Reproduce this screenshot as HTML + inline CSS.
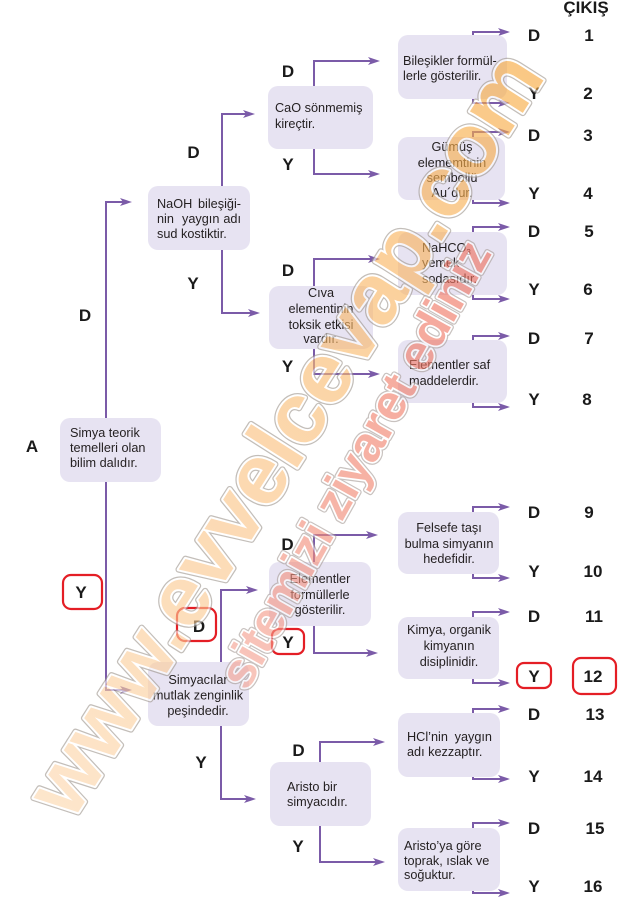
<!DOCTYPE html>
<html><head><meta charset="utf-8">
<style>
html,body{margin:0;padding:0;background:#fff;}
svg{display:block;}
.t{font-family:"Liberation Sans",Arial,sans-serif;font-size:12.7px;fill:#231f20;}
.c{text-anchor:middle;}
.e{text-anchor:end;}
.b{font-family:"Liberation Sans",Arial,sans-serif;font-size:17px;font-weight:bold;fill:#1a1a1a;text-anchor:middle;}
.box{fill:#e7e3f2;}
.ln{stroke:#7b5ba8;stroke-width:2;fill:none;}
.ah{fill:#7b5ba8;}
.red{fill:none;stroke:#e41e25;stroke-width:2.2;}
.wm{font-family:"Liberation Sans",Arial,sans-serif;font-weight:bold;}
</style></head><body>
<svg width="636" height="910" viewBox="0 0 636 910" xmlns="http://www.w3.org/2000/svg">
<defs>
<linearGradient id="g1" gradientUnits="userSpaceOnUse" x1="0" y1="0" x2="884" y2="0">
<stop offset="0" stop-color="#fcd7ad"/>
<stop offset="0.4" stop-color="#fbc486"/>
<stop offset="0.75" stop-color="#f9b35c"/>
<stop offset="1" stop-color="#f7a83a"/>
</linearGradient>
<linearGradient id="g2" gradientUnits="userSpaceOnUse" x1="0" y1="0" x2="503" y2="0">
<stop offset="0" stop-color="#f5a595"/>
<stop offset="0.45" stop-color="#f2856f"/>
<stop offset="1" stop-color="#ee705d"/>
</linearGradient>
</defs>

<!-- connectors -->
<path class="ln" d="M123,202 H106 V690 H123"/>
<path class="ln" d="M246,114 H222 V313 H251"/>
<path class="ln" d="M371,61 H314 V174 H371"/>
<path class="ln" d="M371,259 H314 V374 H371"/>
<path class="ln" d="M249,590 H221 V799 H247"/>
<path class="ln" d="M369,535 H314 V653 H369"/>
<path class="ln" d="M376,742 H320 V862 H376"/>
<!-- leaf stubs -->
<path class="ln" d="M473,36 V32 H501 M473,98 V103 H501"/>
<path class="ln" d="M473,138 V132 H501 M473,199 V203 H501"/>
<path class="ln" d="M473,233 V227 H501 M473,294 V299 H501"/>
<path class="ln" d="M473,341 V336 H501 M473,402 V407 H501"/>
<path class="ln" d="M473,513 V507 H501 M473,573 V578 H501"/>
<path class="ln" d="M473,618 V612 H501 M473,678 V683 H501"/>
<path class="ln" d="M473,714 V709 H501 M473,776 V779 H501"/>
<path class="ln" d="M473,829 V823 H501 M473,890 V893 H501"/>

<!-- arrowheads -->
<g class="ah">
<polygon points="120,198 132,202 120,206 123,202"/>
<polygon points="120,686 132,690 120,694 123,690"/>
<polygon points="243,110 255,114 243,118 246,114"/>
<polygon points="248,309 260,313 248,317 251,313"/>
<polygon points="368,57 380,61 368,65 371,61"/>
<polygon points="368,170 380,174 368,178 371,174"/>
<polygon points="368,255 380,259 368,263 371,259"/>
<polygon points="368,370 380,374 368,378 371,374"/>
<polygon points="246,586 258,590 246,594 249,590"/>
<polygon points="244,795 256,799 244,803 247,799"/>
<polygon points="366,531 378,535 366,539 369,535"/>
<polygon points="366,649 378,653 366,657 369,653"/>
<polygon points="373,738 385,742 373,746 376,742"/>
<polygon points="373,858 385,862 373,866 376,862"/>
<polygon points="498,28 510,32 498,36 501,32"/>
<polygon points="498,99 510,103 498,107 501,103"/>
<polygon points="498,128 510,132 498,136 501,132"/>
<polygon points="498,199 510,203 498,207 501,203"/>
<polygon points="498,223 510,227 498,231 501,227"/>
<polygon points="498,295 510,299 498,303 501,299"/>
<polygon points="498,332 510,336 498,340 501,336"/>
<polygon points="498,403 510,407 498,411 501,407"/>
<polygon points="498,503 510,507 498,511 501,507"/>
<polygon points="498,574 510,578 498,582 501,578"/>
<polygon points="498,608 510,612 498,616 501,612"/>
<polygon points="498,679 510,683 498,687 501,683"/>
<polygon points="498,705 510,709 498,713 501,709"/>
<polygon points="498,775 510,779 498,783 501,779"/>
<polygon points="498,819 510,823 498,827 501,823"/>
<polygon points="498,889 510,893 498,897 501,893"/>
</g>

<!-- boxes -->
<rect class="box" x="60" y="418" width="101" height="64" rx="10"/>
<rect class="box" x="148" y="186" width="102" height="64" rx="10"/>
<rect class="box" x="268" y="86" width="105" height="63" rx="10"/>
<rect class="box" x="398" y="35" width="109" height="64" rx="10"/>
<rect class="box" x="398" y="137" width="107" height="63" rx="10"/>
<rect class="box" x="398" y="232" width="109" height="63" rx="10"/>
<rect class="box" x="269" y="286" width="104" height="63" rx="10"/>
<rect class="box" x="398" y="340" width="109" height="63" rx="10"/>
<rect class="box" x="269" y="562" width="102" height="64" rx="10"/>
<rect class="box" x="398" y="512" width="101" height="62" rx="10"/>
<rect class="box" x="398" y="617" width="101" height="62" rx="10"/>
<rect class="box" x="148" y="662" width="101" height="64" rx="10"/>
<rect class="box" x="270" y="762" width="101" height="64" rx="10"/>
<rect class="box" x="398" y="713" width="102" height="64" rx="10"/>
<rect class="box" x="398" y="828" width="102" height="63" rx="10"/>

<!-- box texts -->
<text class="t" x="70" y="437">Simya teorik</text>
<text class="t" x="70" y="452">temelleri olan</text>
<text class="t" x="70" y="467">bilim dalıdır.</text>

<text class="t" x="157" y="208">NaOH</text><text class="t e" x="241" y="208">bileşiği-</text>
<text class="t" x="157" y="223">nin</text><text class="t" x="182" y="223">yaygın</text><text class="t e" x="241" y="223">adı</text>
<text class="t" x="157" y="238">sud kostiktir.</text>

<text class="t" x="275" y="112">CaO sönmemiş</text>
<text class="t" x="275" y="128">kireçtir.</text>

<text class="t" x="403" y="65">Bileşikler formül-</text>
<text class="t" x="403" y="80">lerle gösterilir.</text>

<text class="t c" x="452" y="151">Gümüş</text>
<text class="t c" x="452" y="167">elememtinin</text>
<text class="t c" x="452" y="182">sembollü</text>
<text class="t c" x="452" y="197">Au´dur.</text>

<text class="t" x="422" y="252">NaHCO<tspan font-size="8" dy="3">3</tspan></text>
<text class="t" x="422" y="267">yemek</text>
<text class="t" x="422" y="283">sodasıdır.</text>

<text class="t c" x="321" y="297">Cıva</text>
<text class="t c" x="321" y="313">elementinin</text>
<text class="t c" x="321" y="329">toksik etkisi</text>
<text class="t c" x="321" y="343">vardır.</text>

<text class="t" x="409" y="369">Elementler saf</text>
<text class="t" x="409" y="385">maddelerdir.</text>

<text class="t c" x="320" y="583">Elementler</text>
<text class="t c" x="320" y="599">formüllerle</text>
<text class="t c" x="320" y="614">gösterilir.</text>

<text class="t c" x="449" y="532">Felsefe taşı</text>
<text class="t c" x="449" y="548">bulma simyanın</text>
<text class="t c" x="449" y="563">hedefidir.</text>

<text class="t c" x="449" y="634">Kimya, organik</text>
<text class="t c" x="449" y="650">kimyanın</text>
<text class="t c" x="449" y="666">disiplinidir.</text>

<text class="t c" x="198" y="684">Simyacılar</text>
<text class="t c" x="198" y="699.5">mutlak zenginlik</text>
<text class="t c" x="198" y="715">peşindedir.</text>

<text class="t" x="287" y="791">Aristo bir</text>
<text class="t" x="287" y="806">simyacıdır.</text>

<text class="t" x="407" y="741">HCl’nin</text><text class="t e" x="492" y="741">yaygın</text>
<text class="t" x="407" y="756">adı kezzaptır.</text>

<text class="t" x="404" y="850">Aristo’ya göre</text>
<text class="t" x="404" y="865">toprak, ıslak ve</text>
<text class="t" x="404" y="879">soğuktur.</text>

<!-- red highlight boxes -->
<rect class="red" x="63" y="575" width="39" height="34" rx="8"/>
<rect class="red" x="177" y="608" width="39" height="33" rx="8"/>
<rect class="red" x="272" y="629" width="32" height="25" rx="7"/>
<rect class="red" x="517" y="663" width="34" height="25" rx="7"/>
<rect class="red" x="573" y="658" width="43" height="36" rx="8"/>

<!-- labels -->
<text class="b" x="586" y="13" font-size="15.5">ÇIKIŞ</text>
<text class="b" x="32" y="452">A</text>
<text class="b" x="85" y="321">D</text>
<text class="b" x="81" y="598">Y</text>
<text class="b" x="193.5" y="158">D</text>
<text class="b" x="193" y="289">Y</text>
<text class="b" x="288" y="77">D</text>
<text class="b" x="288" y="170">Y</text>
<text class="b" x="288" y="276">D</text>
<text class="b" x="287.5" y="372">Y</text>
<text class="b" x="199" y="632">D</text>
<text class="b" x="287.5" y="550">D</text>
<text class="b" x="288" y="648">Y</text>
<text class="b" x="201" y="768">Y</text>
<text class="b" x="298.5" y="756">D</text>
<text class="b" x="298" y="852">Y</text>

<text class="b" x="534" y="41">D</text><text class="b" x="589" y="41">1</text>
<text class="b" x="534" y="99">Y</text><text class="b" x="588" y="99">2</text>
<text class="b" x="534" y="141">D</text><text class="b" x="588" y="141">3</text>
<text class="b" x="534" y="199">Y</text><text class="b" x="588" y="199">4</text>
<text class="b" x="534" y="237">D</text><text class="b" x="589" y="237">5</text>
<text class="b" x="534" y="295">Y</text><text class="b" x="588" y="295">6</text>
<text class="b" x="534" y="344">D</text><text class="b" x="589" y="344">7</text>
<text class="b" x="534" y="405">Y</text><text class="b" x="587" y="405">8</text>
<text class="b" x="534" y="518">D</text><text class="b" x="589" y="518">9</text>
<text class="b" x="534" y="577">Y</text><text class="b" x="593" y="577">10</text>
<text class="b" x="534" y="622">D</text><text class="b" x="594" y="622">11</text>
<text class="b" x="534" y="682">Y</text><text class="b" x="593" y="682">12</text>
<text class="b" x="534" y="720">D</text><text class="b" x="595" y="720">13</text>
<text class="b" x="534" y="782">Y</text><text class="b" x="593" y="782">14</text>
<text class="b" x="534" y="834">D</text><text class="b" x="595" y="834">15</text>
<text class="b" x="534" y="892">Y</text><text class="b" x="593" y="892">16</text>

<!-- watermark 1 -->
<g opacity="0.62" transform="translate(72,822) rotate(-57.55)">
<text class="wm" x="0" y="0" font-size="86" textLength="884" lengthAdjust="spacing" fill="none" stroke="#9f978f" stroke-width="6.5" stroke-linejoin="round">www.evvelcevap.com</text>
<text class="wm" x="0" y="0" font-size="86" textLength="884" lengthAdjust="spacing" fill="url(#g1)" stroke="#ffffff" stroke-width="4" stroke-linejoin="round" paint-order="stroke">www.evvelcevap.com</text>
</g>
<!-- watermark 2 -->
<g opacity="0.62" transform="translate(247,692) rotate(-60.8)">
<text class="wm" x="0" y="0" font-size="50" textLength="503" lengthAdjust="spacing" fill="none" stroke="#a89d99" stroke-width="6" stroke-linejoin="round">sitemizi ziyaret ediniz</text>
<text class="wm" x="0" y="0" font-size="50" textLength="503" lengthAdjust="spacing" fill="url(#g2)" stroke="#ffffff" stroke-width="3.5" stroke-linejoin="round" paint-order="stroke">sitemizi ziyaret ediniz</text>
</g>
</svg>
</body></html>
